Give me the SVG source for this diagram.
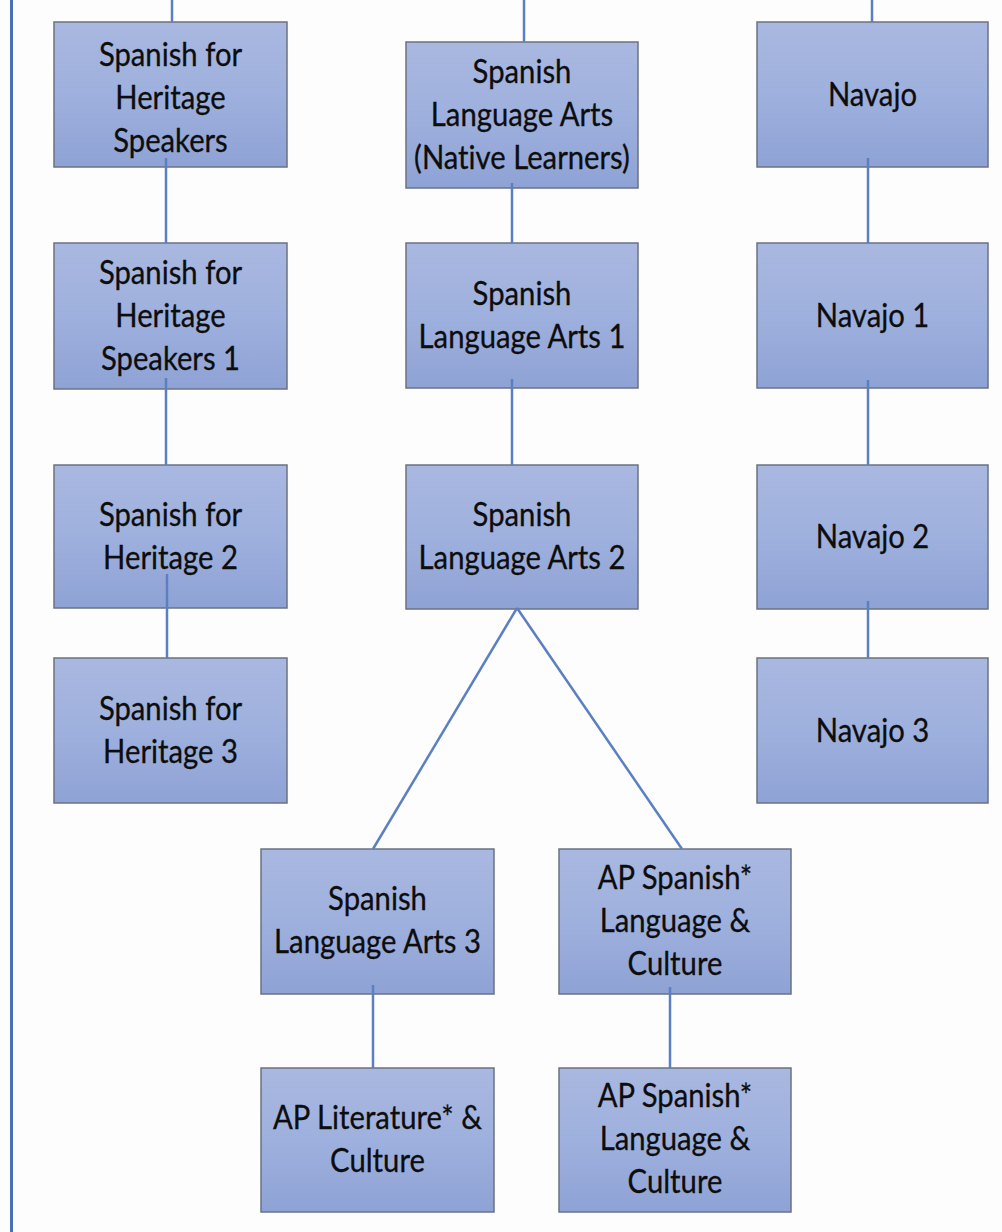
<svg xmlns="http://www.w3.org/2000/svg" width="1002" height="1232" viewBox="0 0 1002 1232">
  <defs>
    <linearGradient id="boxfill" x1="0" y1="0" x2="0" y2="1">
      <stop offset="0" stop-color="#a9b8e0"/>
      <stop offset="0.5" stop-color="#9eb0dd"/>
      <stop offset="1" stop-color="#8ea2d5"/>
    </linearGradient>
    <style>
      .box { fill: url(#boxfill); stroke: #6b7282; stroke-width: 1.5; }
      .lbl { font-family: Lato, "Open Sans", "Liberation Sans", sans-serif; font-size: 32.5px; fill: #0d0d0d; text-anchor: middle;
             font-variant-ligatures: none; stroke: #0d0d0d; stroke-width: 0.3;
             transform-box: fill-box; transform-origin: center; transform: scaleX(0.9); }
      .conn { stroke: #5b80c2; stroke-width: 2.5; fill: none; }
      .edge { stroke: #4a70b6; stroke-width: 3; }
    </style>
  </defs>
  <rect width="1002" height="1232" fill="#fdfdfd"/>
  <line class="edge" x1="11.5" y1="0" x2="11.5" y2="1232"/>

  <g id="n-shs">
    <rect class="box" x="54" y="22" width="233" height="145"/>
    <text class="lbl" x="170.5" y="66">Spanish for</text>
    <text class="lbl" x="170.5" y="109">Heritage</text>
    <text class="lbl" x="170.5" y="152">Speakers</text>
  </g>
  <g id="n-shs1">
    <rect class="box" x="54" y="243" width="233" height="146"/>
    <text class="lbl" x="170.5" y="284">Spanish for</text>
    <text class="lbl" x="170.5" y="327">Heritage</text>
    <text class="lbl" x="170.5" y="370">Speakers 1</text>
  </g>
  <g id="n-sh2">
    <rect class="box" x="54" y="465" width="233" height="143"/>
    <text class="lbl" x="170.5" y="526">Spanish for</text>
    <text class="lbl" x="170.5" y="569">Heritage 2</text>
  </g>
  <g id="n-sh3">
    <rect class="box" x="54" y="658" width="233" height="145"/>
    <text class="lbl" x="170.5" y="720">Spanish for</text>
    <text class="lbl" x="170.5" y="763">Heritage 3</text>
  </g>

  <g id="n-sla">
    <rect class="box" x="406" y="42" width="232" height="146"/>
    <text class="lbl" x="522" y="83">Spanish</text>
    <text class="lbl" x="522" y="126">Language Arts</text>
    <text class="lbl" x="522" y="169">(Native Learners)</text>
  </g>
  <g id="n-sla1">
    <rect class="box" x="406" y="243" width="232" height="145"/>
    <text class="lbl" x="522" y="305">Spanish</text>
    <text class="lbl" x="522" y="348">Language Arts 1</text>
  </g>
  <g id="n-sla2">
    <rect class="box" x="406" y="465" width="232" height="144"/>
    <text class="lbl" x="522" y="526">Spanish</text>
    <text class="lbl" x="522" y="569">Language Arts 2</text>
  </g>

  <g id="n-nav">
    <rect class="box" x="757" y="22" width="231" height="145"/>
    <text class="lbl" x="872.5" y="106">Navajo</text>
  </g>
  <g id="n-nav1">
    <rect class="box" x="757" y="243" width="231" height="145"/>
    <text class="lbl" x="872.5" y="327">Navajo 1</text>
  </g>
  <g id="n-nav2">
    <rect class="box" x="757" y="465" width="231" height="144"/>
    <text class="lbl" x="872.5" y="548">Navajo 2</text>
  </g>
  <g id="n-nav3">
    <rect class="box" x="757" y="658" width="231" height="145"/>
    <text class="lbl" x="872.5" y="742">Navajo 3</text>
  </g>

  <g id="n-sla3">
    <rect class="box" x="261" y="849" width="233" height="145"/>
    <text class="lbl" x="377.5" y="910">Spanish</text>
    <text class="lbl" x="377.5" y="953">Language Arts 3</text>
  </g>
  <g id="n-apslc1">
    <rect class="box" x="559" y="849" width="232" height="145"/>
    <text class="lbl" x="675" y="889">AP Spanish*</text>
    <text class="lbl" x="675" y="932">Language &amp;</text>
    <text class="lbl" x="675" y="975">Culture</text>
  </g>
  <g id="n-aplit">
    <rect class="box" x="261" y="1068" width="233" height="144"/>
    <text class="lbl" x="377.5" y="1129">AP Literature* &amp;</text>
    <text class="lbl" x="377.5" y="1172">Culture</text>
  </g>
  <g id="n-apslc2">
    <rect class="box" x="559" y="1068" width="232" height="144"/>
    <text class="lbl" x="675" y="1107">AP Spanish*</text>
    <text class="lbl" x="675" y="1150">Language &amp;</text>
    <text class="lbl" x="675" y="1193">Culture</text>
  </g>

  <g id="connectors">
    <line class="conn" x1="172" y1="0" x2="172" y2="22"/>
    <line class="conn" x1="166" y1="158" x2="166" y2="243"/>
    <line class="conn" x1="166" y1="378" x2="166" y2="465"/>
    <line class="conn" x1="167" y1="574" x2="167" y2="658"/>

    <line class="conn" x1="524" y1="0" x2="524" y2="42"/>
    <line class="conn" x1="512" y1="183" x2="512" y2="243"/>
    <line class="conn" x1="512" y1="379" x2="512" y2="465"/>
    <line class="conn" x1="517" y1="608" x2="373" y2="849"/>
    <line class="conn" x1="517" y1="608" x2="682" y2="849"/>

    <line class="conn" x1="872" y1="0" x2="872" y2="22"/>
    <line class="conn" x1="868" y1="158" x2="868" y2="243"/>
    <line class="conn" x1="868" y1="380" x2="868" y2="465"/>
    <line class="conn" x1="868" y1="601" x2="868" y2="658"/>

    <line class="conn" x1="373" y1="985" x2="373" y2="1068"/>
    <line class="conn" x1="670" y1="987" x2="670" y2="1068"/>
  </g>
</svg>
